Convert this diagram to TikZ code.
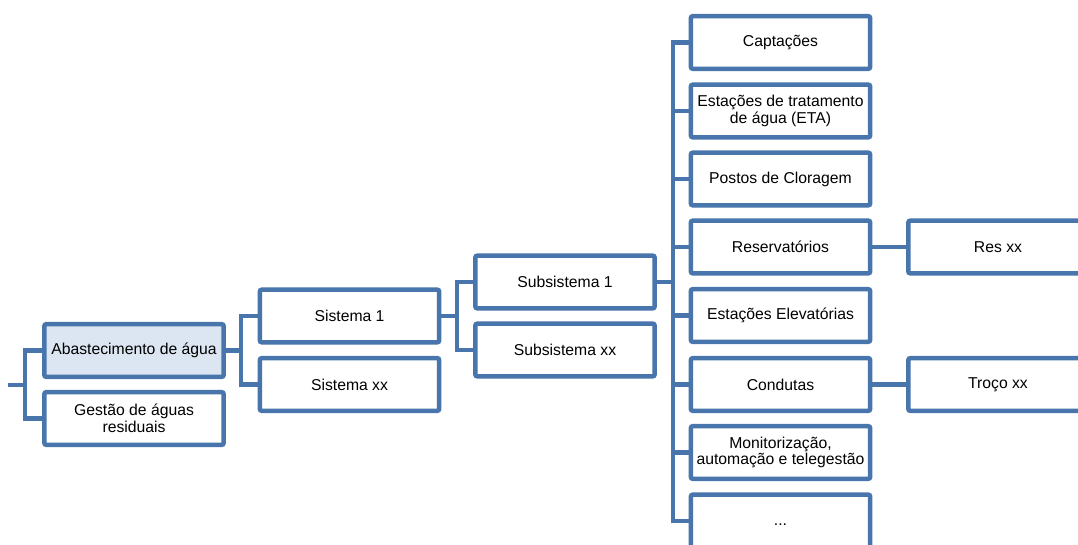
\documentclass[tikz,border=0pt]{standalone}
\usepackage{fontspec}
\setmainfont{Liberation Sans}
\definecolor{blu}{RGB}{72,117,172}
\definecolor{lightblu}{RGB}{220,230,242}
\tikzset{
  box/.style={draw=blu, line width=3.4pt, rounded corners=1.5pt, fill=white,
    minimum width=134.5pt, minimum height=39.5pt, inner sep=0pt, align=center,
    font=\fontsize{11.8}{12.4}\selectfont, text=black},
  conn/.style={draw=blu, line width=3.4pt, line join=miter}
}
\begin{document}
\begin{tikzpicture}[x=0.75pt,y=-0.75pt]
\useasboundingbox (0,0) rectangle (1078,545);
\clip (0,0) rectangle (1078,545);
% level 1
\node[box, fill=lightblu] (abast) at (134,350.5) {Abastecimento de água};
\node[box] (gest) at (134,418.5) {Gestão de águas\\residuais};
% level 2
\node[box] (sis1) at (349.5,316) {Sistema 1};
\node[box] (sisxx) at (349.5,384.5) {Sistema xx};
% level 3
\node[box] (sub1) at (565,282) {Subsistema 1};
\node[box] (subxx) at (565,350) {Subsistema xx};
% level 4
\node[box] (c1) at (780.5,42.5) {Captações};
\node[box] (c2) at (780.5,111) {Estações de tratamento\\de água (ETA)};
\node[box] (c3) at (780.5,179) {Postos de Cloragem};
\node[box] (c4) at (780.5,247) {Reservatórios};
\node[box] (c5) at (780.5,315.5) {Estações Elevatórias};
\node[box] (c6) at (780.5,384.5) {Condutas};
\node[box] (c7) at (780.5,452.5) {Monitorização,\\automação e telegestão};
\node[box, text height=8.5pt, text depth=2.5pt] (c8) at (780.5,521) {...};
% level 5
\node[box] (res) at (998,247) {Res xx};
\node[box] (troco) at (998,384.5) {Troço xx};
% bus points
\coordinate (root) at (8,385);
\coordinate (b0) at (25,385);
\coordinate (b1) at (241,350.5);
\coordinate (b2) at (457,316);
\coordinate (b3) at (673,282);
% connectors
\draw[conn] (root) -- (b0);
\draw[conn] (abast.west) -| (b0) |- (gest.west);
\draw[conn] (abast.east) -- (b1);
\draw[conn] (sis1.west) -| (b1) |- (sisxx.west);
\draw[conn] (sis1.east) -- (b2);
\draw[conn] (sub1.west) -| (b2) |- (subxx.west);
\draw[conn] (sub1.east) -- (b3);
\draw[conn] (c1.west) -| (b3) |- (c8.west);
\foreach \n in {c2,c3,c4,c5,c6,c7} {\draw[conn] (\n.west) -- (\n.west -| b3);}
\draw[conn] (c4.east) -- (res.west);
\draw[conn] (c6.east) -- (troco.west);
\end{tikzpicture}
\end{document}
